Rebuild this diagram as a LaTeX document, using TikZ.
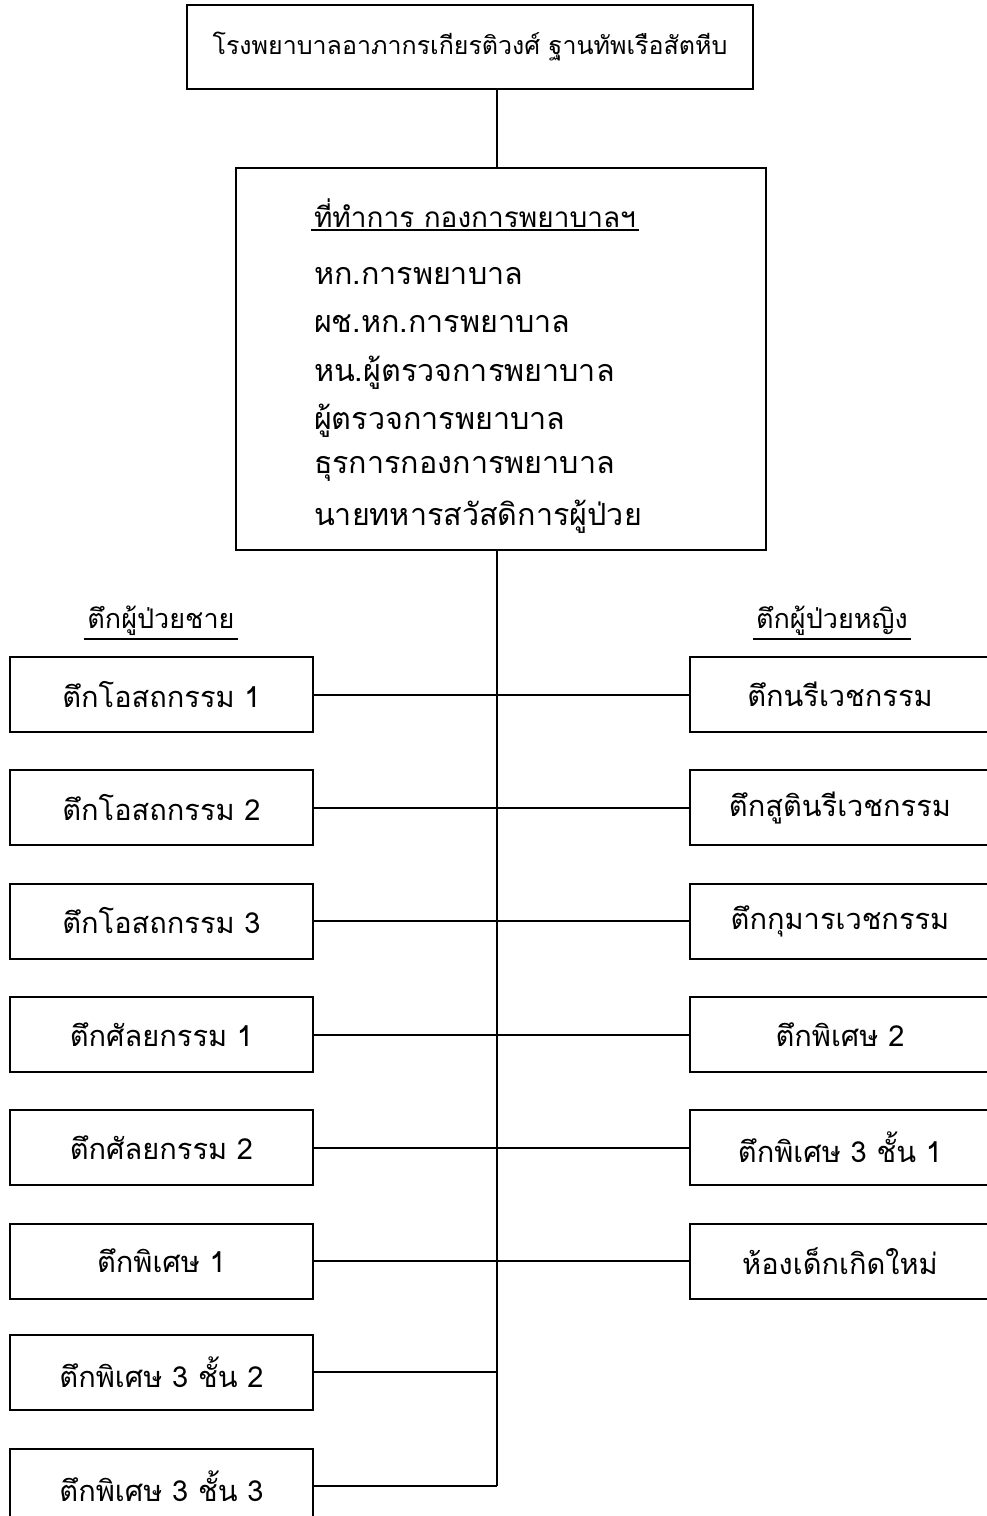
\documentclass[tikz,border=0pt]{standalone}
\usepackage{fontspec}
\newfontfamily\thaifont[Script=Thai]{Loma}
\begin{document}
\begin{tikzpicture}[x=1pt,y=-1pt,line width=2pt,
  every node/.style={font=\thaifont\fontsize{29}{35}\selectfont},
  lbox/.style={draw,line width=2pt,minimum width=303pt,minimum height=75pt,inner sep=0pt},
  rbox/.style={draw,line width=2pt,minimum width=300pt,minimum height=75pt,inner sep=0pt},
  head/.style={inner sep=2pt,font=\thaifont\fontsize{27}{32}\selectfont},
  item/.style={anchor=west,inner sep=0pt,font=\thaifont\fontsize{30.5}{36}\selectfont}]
\useasboundingbox (0,0) rectangle (987,1516);
\clip (0,0) rectangle (987,1516);
% top
\node[draw,line width=2pt,minimum width=566pt,minimum height=84pt,inner sep=0pt,font=\thaifont\fontsize{25}{30}\selectfont] (top) at (470,46.5) {โรงพยาบาลอาภากรเกียรติวงศ์ ฐานทัพเรือสัตหีบ};
% office
\node[draw,line width=2pt,minimum width=530pt,minimum height=382pt,inner sep=0pt] (office) at (501,359) {};
\node[item,inner sep=2pt,font=\thaifont\fontsize{28}{34}\selectfont] (oh) at (311,213) {ที่ทำการ กองการพยาบาลฯ};
\draw (oh.south west) -- (oh.south east);
\node[item] (o1) at (313,276) {หก.การพยาบาล};
\node[item] (o2) at (313,324) {ผช.หก.การพยาบาล};
\node[item] (o3) at (313,373) {หน.ผู้ตรวจการพยาบาล};
\node[item] (o4) at (313,421) {ผู้ตรวจการพยาบาล};
\node[item] (o5) at (313,469) {ธุรการกองการพยาบาล};
\node[item] (o6) at (313,517) {นายทหารสวัสดิการผู้ป่วย};
% trunk
\coordinate (tx) at (497,0);
\coordinate (bot) at (497,1486);
\draw (top.south -| tx) -- (office.north -| tx);
\draw (office.south -| tx) -- (bot);
% headers
\node[head] (lh) at (161,621) {ตึกผู้ป่วยชาย};
\draw (lh.south west) -- (lh.south east);
\node[head] (rh) at (832,621) {ตึกผู้ป่วยหญิง};
\draw (rh.south west) -- (rh.south east);
% left boxes
\node[lbox] (L1) at (161.5,694.5) {ตึกโอสถกรรม 1};
\node[lbox] (L2) at (161.5,807.5) {ตึกโอสถกรรม 2};
\node[lbox] (L3) at (161.5,921) {ตึกโอสถกรรม 3};
\node[lbox] (L4) at (161.5,1034.5) {ตึกศัลยกรรม 1};
\node[lbox] (L5) at (161.5,1147.5) {ตึกศัลยกรรม 2};
\node[lbox] (L6) at (161.5,1261) {ตึกพิเศษ 1};
\node[lbox] (L7) at (161.5,1372) {ตึกพิเศษ 3 ชั้น 2};
\node[lbox] (L8) at (161.5,1486) {ตึกพิเศษ 3 ชั้น 3};
% right boxes
\node[rbox] (R1) at (840,694.5) {ตึกนรีเวชกรรม};
\node[rbox] (R2) at (840,807.5) {ตึกสูตินรีเวชกรรม};
\node[rbox] (R3) at (840,921) {ตึกกุมารเวชกรรม};
\node[rbox] (R4) at (840,1034.5) {ตึกพิเศษ 2};
\node[rbox] (R5) at (840,1147.5) {ตึกพิเศษ 3 ชั้น 1};
\node[rbox] (R6) at (840,1261) {ห้องเด็กเกิดใหม่};
% connectors
\foreach \n in {L1,L2,L3,L4,L5,L6,L7,L8} \draw (\n.east) -- (\n.east -| tx);
\foreach \n in {R1,R2,R3,R4,R5,R6} \draw (\n.west) -- (\n.west -| tx);
\end{tikzpicture}
\end{document}
